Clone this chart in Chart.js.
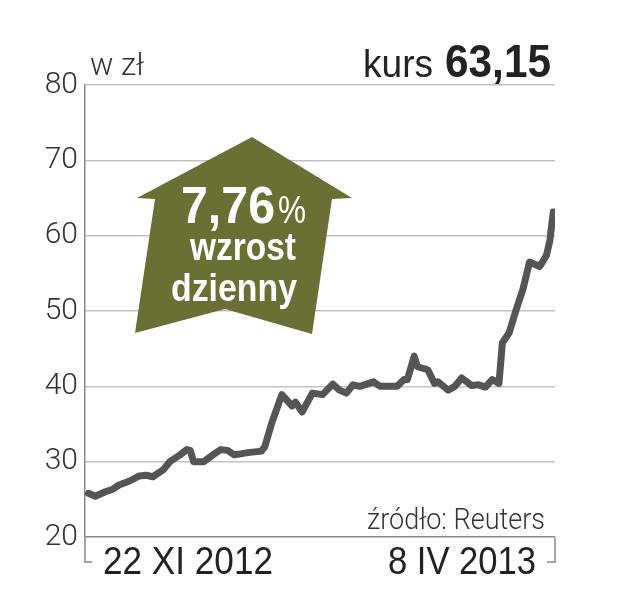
<!DOCTYPE html>
<html>
<head>
<meta charset="utf-8">
<script src="https://cdn.jsdelivr.net/npm/chart.js@4/dist/chart.umd.min.js"></script>
<style>
  html, body { margin: 0; padding: 0; background: #fff; }
  #wrap { position: relative; width: 617px; height: 592px; }
</style>
</head>
<body>
<div id="wrap"><canvas id="myChart" width="617" height="592"></canvas></div>
<script>
var ctx = document.getElementById('myChart').getContext('2d');

// dni od 22 XI 2012 i kurs w zl
var dni = [0, 2, 5, 7, 9, 12, 15, 17, 19, 22, 24, 27, 29, 30, 31, 34, 37, 39, 41, 43,
  47, 51, 52, 54, 57, 60, 61, 63, 66, 69, 72, 74, 76, 78, 80, 84, 86, 91, 93, 94,
  96, 97, 100, 102, 103, 106, 108, 110, 113, 115, 117, 119, 121, 122, 124, 126, 128, 130, 133, 135,
  136, 137];
var kurs = [25.8, 25.4, 26.0, 26.3, 26.9, 27.4, 28.1, 28.2, 28.0, 28.9, 30.0, 30.9, 31.6, 31.5, 30.0, 30.0, 31.0, 31.6, 31.5, 30.9,
  31.2, 31.4, 32.0, 35.1, 38.9, 37.4, 37.9, 36.6, 39.1, 38.9, 40.3, 39.5, 39.1, 40.2, 40.0, 40.6, 40.0, 40.0, 40.9, 40.9,
  44.0, 42.6, 42.2, 40.4, 40.6, 39.5, 40.0, 41.1, 40.1, 40.2, 39.9, 40.9, 40.4, 45.8, 47.1, 50.1, 52.8, 56.5, 55.9, 57.4,
  59.4, 63.15];

var yTicks = [20, 30, 40, 50, 60, 70, 80];
var dateLabels = ['22 XI 2012', '8 IV 2013'];
var unitLabel = 'w zł';
var lastLabel = 'kurs';
var lastValue = '63,15';
var changeLabel = ['7,76', '%', 'wzrost', 'dzienny'];
var sourceLabel = 'źródło: Reuters';

var points = dni.map(function(d, i) {
  return { x: d, y: kurs[i] };
});

var decor = {
  id: 'decor',
  beforeDatasetsDraw: function(chart) {
    var c = chart.ctx;
    // strzalka
    c.save();
    c.fillStyle = '#6a7033';
    c.beginPath();
    c.moveTo(252, 137);
    c.lineTo(352, 198);
    c.lineTo(332, 199);
    c.lineTo(312, 334);
    c.lineTo(225, 309);
    c.lineTo(135, 333);
    c.lineTo(155, 199);
    c.lineTo(137, 198);
    c.closePath();
    c.fill();

    c.fillStyle = '#fff';
    c.textBaseline = 'alphabetic';
    c.font = 'bold 52px "Liberation Sans", Arial, sans-serif';
    c.textAlign = 'left';
    var w1 = Math.min(c.measureText(changeLabel[0]).width, 94);
    c.fillText(changeLabel[0], 181, 223, 94);
    c.font = '38px "Liberation Sans", Arial, sans-serif';
    c.fillText(changeLabel[1], 181 + w1 + 3, 223, 28);
    c.font = 'bold 38px "Liberation Sans", Arial, sans-serif';
    c.textAlign = 'center';
    c.fillText(changeLabel[2], 243, 260, 106);
    c.fillText(changeLabel[3], 234, 301, 126);
    c.restore();
  },
  afterDraw: function(chart) {
    var c = chart.ctx;
    var a = chart.chartArea;
    c.save();
    // os dolna z klamra
    c.strokeStyle = '#888';
    c.lineWidth = 1.5;
    c.beginPath();
    c.moveTo(a.left, a.bottom);
    c.lineTo(a.left, 562);
    c.lineTo(a.left + 7, 562);
    c.moveTo(a.right, a.bottom);
    c.lineTo(a.right, 562);
    c.lineTo(a.right - 8, 562);
    c.stroke();

    c.fillStyle = '#222';
    c.textBaseline = 'alphabetic';
    c.font = '39px "Liberation Sans", Arial, sans-serif';
    c.textAlign = 'left';
    c.fillText(dateLabels[0], 103, 574, 170);
    c.textAlign = 'right';
    c.fillText(dateLabels[1], 536, 574, 148);

    c.fillStyle = '#333';
    c.font = '300 31px Roboto, "Liberation Sans", sans-serif';
    c.textAlign = 'left';
    c.fillText(unitLabel, 90, 75, 58);
    c.textAlign = 'right';
    c.font = '300 29px Roboto, "Liberation Sans", sans-serif';
    c.fillText(sourceLabel, 545, 529, 178);

    c.fillStyle = '#222';
    c.font = 'bold 46px "Liberation Sans", Arial, sans-serif';
    c.fillText(lastValue, 551, 77, 106);
    c.font = '38px "Liberation Sans", Arial, sans-serif';
    c.fillText(lastLabel, 433, 77, 70);
    c.restore();
  }
};

new Chart(ctx, {
  type: 'line',
  data: {
    datasets: [{
      data: points,
      borderColor: '#555555',
      borderWidth: 7,
      pointRadius: 0,
      tension: 0,
      borderJoinStyle: 'round',
      borderCapStyle: 'round'
    }]
  },
  options: {
    responsive: false,
    animation: false,
    events: [],
    layout: {
      padding: { left: 0, top: 85, right: 62, bottom: 55 }
    },
    plugins: {
      legend: { display: false },
      tooltip: { enabled: false }
    },
    scales: {
      x: {
        type: 'linear',
        display: false,
        min: -1,
        max: 137.5
      },
      y: {
        min: 20,
        max: 80,
        afterFit: function(scale) { scale.width = 85; },
        afterBuildTicks: function(scale) {
          scale.ticks = yTicks.map(function(v) { return { value: v }; });
        },
        ticks: {
          padding: 7,
          color: '#333',
          font: { family: 'Roboto, "Liberation Sans", sans-serif', size: 30, weight: 300 }
        },
        grid: {
          drawTicks: false,
          lineWidth: 1.5,
          color: function(context) {
            return context.tick && context.tick.value === 20 ? '#888' : '#c2c2c2';
          }
        },
        border: { display: true, color: '#888', width: 1.5 }
      }
    }
  },
  plugins: [decor]
});
</script>
</body>
</html>
